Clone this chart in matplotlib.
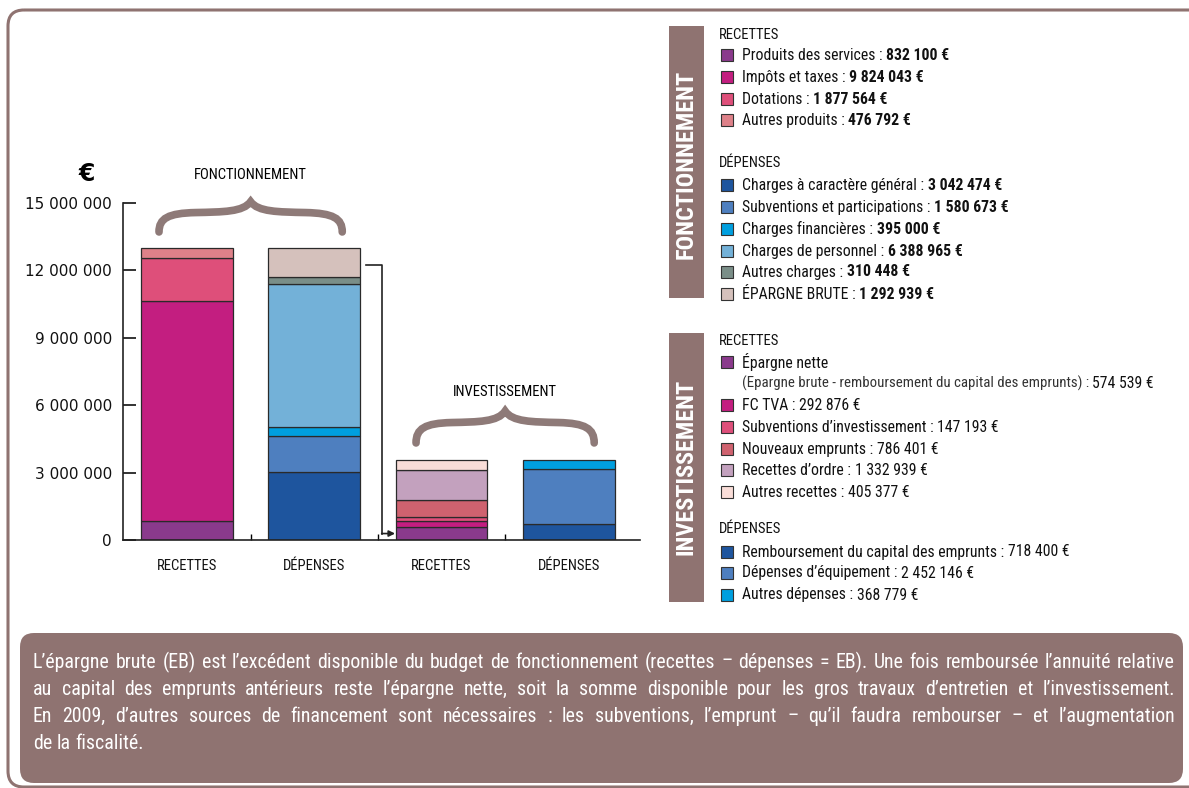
import matplotlib
matplotlib.use('Agg')
import matplotlib.pyplot as plt
from matplotlib import font_manager
from matplotlib.patches import FancyBboxPatch, Rectangle, PathPatch
from matplotlib.path import Path

W, H = 1189, 788

# data
bar_labels = ['RECETTES', 'DÉPENSES', 'RECETTES', 'DÉPENSES']
yticks = [0, 3000000, 6000000, 9000000, 12000000, 15000000]
ytick_labels = ['0', '3 000 000', '6 000 000', '9 000 000', '12 000 000', '15 000 000']

fonct_rec_names = ['Produits des services', 'Impôts et taxes', 'Dotations', 'Autres produits']
fonct_rec_vals = [832100, 9824043, 1877564, 476792]
fonct_rec_colors = ['#8a3a8c', '#c31e80', '#de4f7a', '#de8189']

fonct_dep_names = ['Charges à caractère général', 'Subventions et participations',
                   'Charges financières', 'Charges de personnel', 'Autres charges', 'ÉPARGNE BRUTE']
fonct_dep_vals = [3042474, 1580673, 395000, 6388965, 310448, 1292939]
fonct_dep_colors = ['#1e559e', '#4e7fbf', '#009fdf', '#73b1d8', '#7a8e88', '#d5c1bc']

inv_rec_names = ['Épargne nette', 'FC TVA', 'Subventions d’investissement', 'Nouveaux emprunts',
                 'Recettes d’ordre', 'Autres recettes']
inv_rec_vals = [574539, 292876, 147193, 786401, 1332939, 405377]
inv_rec_colors = ['#8a3a8c', '#c31e80', '#de4f7a', '#cf626f', '#c3a1be', '#f9ddd8']

inv_dep_names = ['Remboursement du capital des emprunts', 'Dépenses d’équipement', 'Autres dépenses']
inv_dep_vals = [718400, 2452146, 368779]
inv_dep_colors = ['#1e559e', '#4e7fbf', '#009fdf']

note_lines = [
    'L’épargne brute (EB) est l’excédent disponible du budget de fonctionnement (recettes – dépenses = EB). Une fois remboursée l’annuité relative',
    'au capital des emprunts antérieurs reste l’épargne nette, soit la somme disponible pour les gros travaux d’entretien et l’investissement.',
    'En 2009, d’autres sources de financement sont nécessaires : les subventions, l’emprunt – qu’il faudra rembourser – et l’augmentation',
    'de la fiscalité.',
]

BROWN = '#8f7371'
BRACE = '#8e7a78'

# pick the narrowest sans that is installed
names = {f.name for f in font_manager.fontManager.ttflist}
NARROW = dict(fontfamily='DejaVu Sans', fontstretch='condensed')
for cand in ['Liberation Sans Narrow', 'Roboto Condensed', 'Open Sans Condensed',
             'Noto Sans Condensed', 'Noto Sans SemiCondensed', 'Open Sans SemiCondensed']:
    if cand in names:
        NARROW = dict(fontfamily=cand)
        break
else:
    for f in font_manager.fontManager.ttflist:
        if f.name in ('Noto Sans', 'Open Sans', 'Roboto', 'Liberation Sans') and \
                f.stretch in ('condensed', 'semi-condensed', 'extra-condensed', 350, 375, 400):
            NARROW = dict(fontfamily=f.name, fontstretch='condensed')
            break


def euro(v):
    return f'{v:,}'.replace(',', ' ') + ' €'


fig = plt.figure(figsize=(W / 100, H / 100), dpi=100)
renderer = fig.canvas.get_renderer()

# background layer in pixel coordinates
bg = fig.add_axes([0, 0, 1, 1])
bg.set_xlim(0, W)
bg.set_ylim(H, 0)
bg.axis('off')

bg.add_patch(FancyBboxPatch((8, 10), 1200, 777, boxstyle='round,pad=0,rounding_size=16',
                            fc='none', ec=BROWN, lw=2.2, clip_on=True))
bg.add_patch(FancyBboxPatch((20, 633), 1163, 150, boxstyle='round,pad=0,rounding_size=14',
                            fc=BROWN, ec='none'))

# note text, justified
x_left, x_right = 33, 1175


def width_of(s, size, **kw):
    t = bg.text(0, 0, s, fontsize=size, **kw)
    w = t.get_window_extent(renderer).width
    t.remove()
    return w


fs = 14
fs = fs * (x_right - x_left) * 0.985 / max(width_of(line, fs, **NARROW) for line in note_lines[:3])
space = width_of('a a', fs, **NARROW) - width_of('aa', fs, **NARROW)
for k, line in enumerate(note_lines):
    y = 662 + 27.3 * k
    words = line.split(' ')
    objs = [bg.text(0, y, w, fontsize=fs, color='white', va='center', **NARROW) for w in words]
    ws = [o.get_window_extent(renderer).width for o in objs]
    if k < 3:
        gap = (x_right - x_left - sum(ws)) / (len(words) - 1)
    else:
        gap = space
    x = x_left
    for o, w in zip(objs, ws):
        o.set_x(x)
        x += w + gap

# legend panels
LFS = 11.3


def item(y, color, label, value, bold):
    bg.add_patch(Rectangle((721, y - 6), 12, 12, fc=color, ec='#333333', lw=0.8))
    t = bg.text(742, y, label + ' : ', fontsize=LFS, va='center', color='#111111', **NARROW)
    x1 = t.get_window_extent(renderer).x1
    bg.text(x1, y, value, fontsize=LFS, va='center', color='#111111',
            fontweight='bold' if bold else 'normal', **NARROW)


def header(y, s):
    bg.text(719, y, s, fontsize=10.5, va='center', color='#111111', **NARROW)


bg.add_patch(Rectangle((669, 26), 35, 272, fc=BROWN, ec='none'))
bg.text(686.5, 164, 'FONCTIONNEMENT', rotation=90, ha='center', va='center', color='white',
        fontsize=17.5, fontweight='bold', **NARROW)
header(35, 'RECETTES')
for y, n, v, c in zip([55, 77, 99, 120], fonct_rec_names, fonct_rec_vals, fonct_rec_colors):
    item(y, c, n, euro(v), True)
header(163, 'DÉPENSES')
for y, n, v, c in zip([185, 207, 229, 251, 272, 294], fonct_dep_names, fonct_dep_vals, fonct_dep_colors):
    item(y, c, n, euro(v), True)

bg.add_patch(Rectangle((669, 333), 35, 269, fc=BROWN, ec='none'))
bg.text(686.5, 467, 'INVESTISSEMENT', rotation=90, ha='center', va='center', color='white',
        fontsize=17.5, fontweight='bold', **NARROW)
header(341, 'RECETTES')
bg.add_patch(Rectangle((721, 362 - 6), 12, 12, fc=inv_rec_colors[0], ec='#333333', lw=0.8))
bg.text(742, 362, inv_rec_names[0], fontsize=LFS, va='center', color='#111111', **NARROW)
t = bg.text(742, 383, '(Epargne brute - remboursement du capital des emprunts) : ', fontsize=10.7,
            va='center', color='#333333', **NARROW)
bg.text(t.get_window_extent(renderer).x1, 383, euro(inv_rec_vals[0]), fontsize=LFS, va='center',
        color='#111111', **NARROW)
for y, n, v, c in zip([405, 427, 449, 470, 492], inv_rec_names[1:], inv_rec_vals[1:], inv_rec_colors[1:]):
    item(y, c, n, euro(v), False)
header(529, 'DÉPENSES')
for y, n, v, c in zip([552, 573, 595], inv_dep_names, inv_dep_vals, inv_dep_colors):
    item(y, c, n, euro(v), False)

# main chart
ax = fig.add_axes([123 / W, 1 - 540 / H, (640 - 123) / W, (540 - 203) / H])
ax.patch.set_visible(False)
ax.set_xlim(-0.503, 3.56)
ax.set_ylim(0, 15000000)

stacks = [(fonct_rec_vals, fonct_rec_colors), (fonct_dep_vals, fonct_dep_colors),
          (inv_rec_vals, inv_rec_colors), (inv_dep_vals, inv_dep_colors)]
for i, (vals, cols) in enumerate(stacks):
    b = 0
    for v, c in zip(vals, cols):
        ax.bar(i, v, bottom=b, width=0.72, color=c, edgecolor='#2a2a2a', linewidth=0.9)
        b += v

for s in ['top', 'right']:
    ax.spines[s].set_visible(False)
for s in ['left', 'bottom']:
    ax.spines[s].set_linewidth(1.2)
    ax.spines[s].set_color('#222222')

ax.set_yticks(yticks, ytick_labels)
ax.tick_params(axis='y', direction='in', length=9, width=1.2, labelsize=11, pad=8, colors='#111111')
ax.set_xticks(range(4), bar_labels)
ax.tick_params(axis='x', length=0, labelsize=10.5, pad=14, colors='#111111')
for lab in ax.get_xticklabels():
    lab.set_fontfamily(NARROW['fontfamily'])
    if 'fontstretch' in NARROW:
        lab.set_fontstretch(NARROW['fontstretch'])
ax.set_xticks([0.5, 1.5, 2.5], minor=True)
ax.tick_params(axis='x', which='minor', direction='in', length=4, width=1)

ax.text(-0.79, 16300000, '€', fontsize=17, fontweight='bold', ha='center', va='center', clip_on=False)


def brace(x0, x1, y0, y1):
    w, h = x1 - x0, y1 - y0

    def P(u, v):
        return (x0 + u * w, y0 + v * h)
    verts = [P(0, 0), P(0, 0.45), P(0.05, 0.62), P(0.2, 0.64),
             P(0.35, 0.66), P(0.46, 0.66), P(0.5, 1.0),
             P(0.54, 0.66), P(0.65, 0.66), P(0.8, 0.64),
             P(0.95, 0.62), P(1, 0.45), P(1, 0)]
    codes = [Path.MOVETO] + [Path.CURVE4] * 12
    ax.add_patch(PathPatch(Path(verts, codes), fc='none', ec=BRACE, lw=5.5,
                           capstyle='round', clip_on=False))


tot_f = sum(fonct_rec_vals)
tot_i = sum(inv_rec_vals)
brace(-0.22, 1.22, tot_f + 700000, tot_f + 2050000)
brace(1.8, 3.2, tot_i + 780000, tot_i + 2200000)
ax.text(0.5, tot_f + 3250000, 'FONCTIONNEMENT', ha='center', va='center', fontsize=10.5,
        clip_on=False, **NARROW)
ax.text(2.5, tot_i + 3050000, 'INVESTISSEMENT', ha='center', va='center', fontsize=10.5,
        clip_on=False, **NARROW)

# arrow from épargne brute to épargne nette
y_start = tot_f - fonct_dep_vals[-1] * 0.6
y_end = inv_rec_vals[0] / 2
ax.plot([1.41, 1.53, 1.53], [y_start, y_start, y_end], color='#222222', lw=1.2, clip_on=False)
ax.annotate('', xy=(1.635, y_end), xytext=(1.53, y_end),
            arrowprops=dict(arrowstyle='-|>', color='#222222', lw=1.2, shrinkA=0, shrinkB=0,
                            mutation_scale=9))

fig.savefig('out.png', dpi=100)
